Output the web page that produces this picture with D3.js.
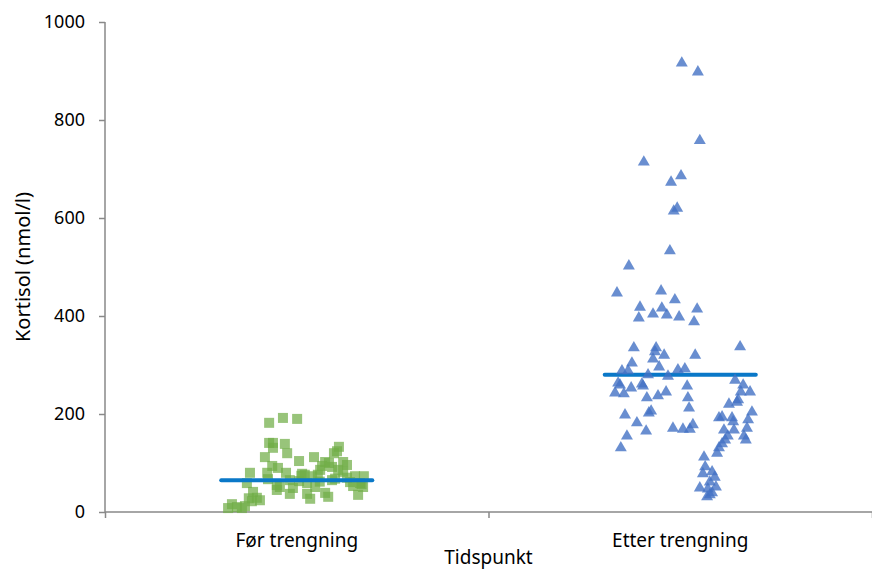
<!DOCTYPE html>
<html>
<head>
<meta charset="utf-8">
<script src="https://cdn.jsdelivr.net/npm/d3@7"></script>
<style>
  body { margin: 0; background: #fff; }
  text { font-family: 'Noto Sans', sans-serif; fill: #000; }
</style>
</head>
<body>
<script>
// categories and tick labels
const categories = ['Før trengning', 'Etter trengning']
const yTicks = [0, 200, 400, 600, 800, 1000]

// Før trengning: x position (axis units, category centre 0.5) and cortisol value
const beforeX = [0.428, 0.464, 0.501, 0.428, 0.438, 0.469, 0.438, 0.475, 0.417, 0.506, 0.545, 0.610, 0.605, 0.597, 0.574, 0.584, 0.566, 0.621, 0.631, 0.592, 0.608, 0.436, 0.451, 0.472, 0.378, 0.423, 0.514, 0.540, 0.555, 0.621, 0.652, 0.675, 0.370, 0.425, 0.482, 0.506, 0.527, 0.548, 0.448, 0.456, 0.490, 0.592, 0.639, 0.665, 0.647, 0.673, 0.386, 0.482, 0.527, 0.574, 0.582, 0.660, 0.535, 0.396, 0.404, 0.331, 0.344, 0.357, 0.365, 0.321, 0.383, 0.375, 0.521, 0.561, 0.600, 0.631, 0.669, 0.560, 0.512, 0.448]
const beforeY = [182, 192, 190, 141, 141, 139, 131, 120, 112, 104, 112, 133, 124, 120, 102, 100, 94, 102, 96, 92, 86, 94, 90, 80, 80, 80, 78, 73, 76, 82, 73, 73, 59, 67, 65, 63, 59, 51, 55, 51, 49, 65, 61, 59, 53, 51, 41, 37, 37, 39, 31, 35, 27, 29, 24, 16, 10, 8, 12, 8, 22, 28, 76, 86, 68, 70, 57, 62, 74, 45]

// Etter trengning: x position (category centre 1.5) and cortisol value
const afterX = [1.504, 1.546, 1.551, 1.405, 1.476, 1.502, 1.483, 1.492, 1.473, 1.366,
  1.335, 1.450, 1.486, 1.395, 1.452, 1.544, 1.429, 1.465, 1.497, 1.392,
  1.536, 1.379, 1.437, 1.434, 1.458, 1.539, 1.656, 1.429, 1.374, 1.445,
  1.348, 1.364, 1.416, 1.468, 1.494, 1.512, 1.338, 1.343, 1.400, 1.403,
  1.372, 1.330, 1.353, 1.442, 1.463, 1.413, 1.518, 1.520, 1.523, 1.643,
  1.664, 1.658, 1.682, 1.627, 1.648, 1.651, 1.424, 1.418, 1.356, 1.387,
  1.411, 1.361, 1.345, 1.481, 1.507, 1.525, 1.533, 1.687, 1.601, 1.609,
  1.635, 1.638, 1.677, 1.614, 1.640, 1.674, 1.624, 1.666, 1.671, 1.617,
  1.609, 1.601, 1.596, 1.562, 1.565, 1.583, 1.559, 1.590, 1.577, 1.593,
  1.551, 1.572, 1.583, 1.570, 1.577]
const afterY = [916, 898, 758, 714, 673, 686, 614, 620, 533, 502,
  447, 451, 433, 418, 416, 414, 404, 402, 398, 396,
  388, 335, 335, 327, 320, 320, 337, 312, 304, 296,
  288, 288, 280, 277, 290, 292, 263, 259, 261, 257,
  253, 243, 241, 237, 245, 233, 257, 233, 212, 269,
  259, 245, 245, 220, 224, 229, 206, 202, 198, 182,
  165, 155, 131, 171, 169, 169, 178, 204, 192, 194,
  192, 184, 188, 167, 167, 171, 155, 155, 147, 147,
  139, 131, 120, 112, 92, 82, 78, 71, 61, 51,
  49, 47, 39, 31, 35]

// medians
const medians = [65, 280]

const margin = {top: 22, right: 0, bottom: 59, left: 105}
const width = 872 - margin.left - margin.right
const height = 571 - margin.top - margin.bottom

const svg = d3.select('body').append('svg')
  .attr('width', 872)
  .attr('height', 571)

const g = svg.append('g')
  .attr('transform', `translate(${margin.left},${margin.top})`)

const xscale = d3.scaleLinear().domain([0, 2]).range([0, width])
const yscale = d3.scaleLinear().domain([0, 1000]).range([height, 0])

// y axis
const yaxis = d3.axisLeft(yscale).tickValues(yTicks).tickFormat(d3.format('d')).tickSize(6).tickPadding(14)
const g_yaxis = g.append('g').call(yaxis)
g_yaxis.select('.domain').attr('stroke', '#898989').attr('stroke-width', 1.5)
  .attr('d', `M0,${height}V0`)
g_yaxis.selectAll('.tick line').attr('stroke', '#898989').attr('stroke-width', 1.5)
g_yaxis.selectAll('.tick text').style('font-size', '18px').style('font-family', 'Noto Sans')

// x axis: ticks at category boundaries, labels at centres
const xaxis = d3.axisBottom(xscale).tickValues([0, 1, 2]).tickSize(6).tickFormat('')
const g_xaxis = g.append('g').attr('transform', `translate(0,${height})`).call(xaxis)
g_xaxis.select('.domain').attr('stroke', '#898989').attr('stroke-width', 1.5)
  .attr('d', `M0,0H${width}`)
g_xaxis.selectAll('.tick line').attr('stroke', '#898989').attr('stroke-width', 1.5)

g.selectAll('.cat').data(categories).join('text')
  .attr('class', 'cat')
  .attr('x', (d, i) => xscale(i + 0.5))
  .attr('y', height + 35)
  .attr('text-anchor', 'middle')
  .style('font-size', '19px')
  .text((d) => d)

// axis titles
svg.append('text')
  .attr('x', margin.left + xscale(1))
  .attr('y', 564)
  .attr('text-anchor', 'middle')
  .style('font-size', '19px')
  .text('Tidspunkt')

svg.append('text')
  .attr('transform', `translate(30,${margin.top + height / 2}) rotate(-90)`)
  .attr('text-anchor', 'middle')
  .style('font-size', '20px')
  .text('Kortisol (nmol/l)')

// green squares
const before = beforeX.map((x, i) => ({x: x, y: beforeY[i]}))
const sq = 10
g.selectAll('.before').data(before).join('rect')
  .attr('class', 'before')
  .attr('x', (d) => xscale(d.x) - sq / 2)
  .attr('y', (d) => yscale(d.y) - sq / 2)
  .attr('width', sq)
  .attr('height', sq)
  .attr('fill', '#70ad47')
  .attr('fill-opacity', 0.72)

// medians
g.selectAll('.median').data(medians).join('line')
  .attr('class', 'median')
  .attr('x1', (d, i) => xscale(i + 0.5 - 0.197))
  .attr('x2', (d, i) => xscale(i + 0.5 + 0.197))
  .attr('y1', (d) => yscale(d))
  .attr('y2', (d) => yscale(d))
  .attr('stroke', '#0a78c8')
  .attr('stroke-width', 4)
  .attr('stroke-linecap', 'round')

// blue triangles
const after = afterX.map((x, i) => ({x: x, y: afterY[i]}))
const tri = d3.symbol().type(d3.symbolTriangle).size(62)
g.selectAll('.after').data(after).join('path')
  .attr('class', 'after')
  .attr('d', tri)
  .attr('transform', (d) => `translate(${xscale(d.x)},${yscale(d.y)})`)
  .attr('fill', '#4472c4')
  .attr('fill-opacity', 0.8)
</script>
</body>
</html>
